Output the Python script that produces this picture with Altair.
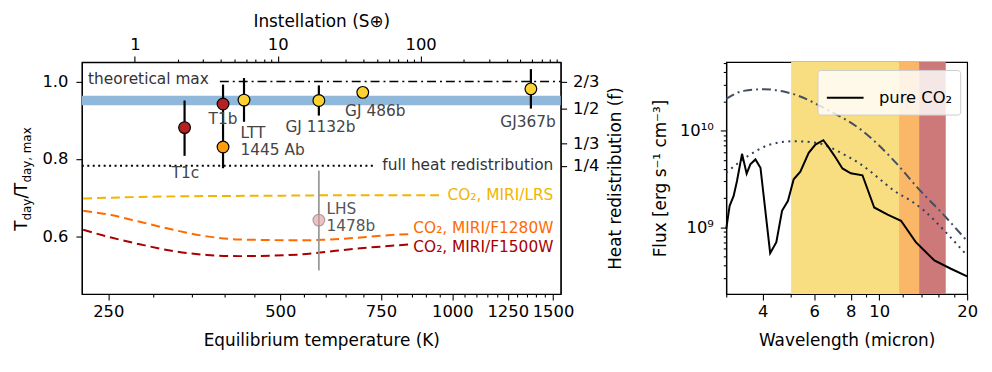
import altair as alt
import pandas as pd

FONT = "DejaVu Sans"

# ---------------- left panel data ----------------
planet_teq    = [340, 397, 397, 432, 584, 697, 1372]
planet_ratio  = [0.881, 0.942, 0.831, 0.952, 0.951, 0.972, 0.981]
planet_err_lo = [0.808, 0.890, 0.776, 0.896, 0.912, 0.972, 0.930]
planet_err_hi = [0.951, 0.992, 0.890, 1.009, 0.990, 0.972, 1.032]
planet_fill   = ["#b22222", "#b22222", "#ff9d0b", "#fdd232", "#fdd232", "#fdd232", "#fdd232"]

lhs_teq, lhs_ratio, lhs_lo, lhs_hi = [584], [0.642], [0.512], [0.770]

label_text  = ["T1c", "T1b", "GJ 1132b", "GJ 486b", "GJ367b"]
label_teq   = [341, 397, 588, 733, 1356]
label_ratio = [0.764, 0.904, 0.883, 0.925, 0.895]
ltt_text  = ["LTT", "1445 Ab"]
ltt_teq   = [426, 426]
ltt_ratio = [0.868, 0.823]
lhs_text  = ["LHS", "1478b"]
lhs_lteq  = [602, 602]
lhs_lratio = [0.670, 0.626]

lrs_teq   = [226, 253, 316, 539, 592, 772, 955]
lrs_ratio = [0.698, 0.700, 0.703, 0.7055, 0.706, 0.706, 0.706]
f1280_teq   = [226, 253, 285, 325, 372, 424, 539, 592, 676, 772, 848]
f1280_ratio = [0.666, 0.655, 0.637, 0.617, 0.600, 0.592, 0.590, 0.591, 0.596, 0.603, 0.606]
f1500_teq   = [226, 253, 285, 325, 372, 424, 539, 592, 676, 772, 838]
f1500_ratio = [0.617, 0.597, 0.579, 0.562, 0.552, 0.549, 0.553, 0.559, 0.568, 0.575, 0.579]

band_lo, band_hi = 0.9387, 0.9635
max_line = {"x": [392], "x2": [1547], "y": [1.0]}
full_line = {"x": [224.8], "x2": [736], "y": [0.7825]}

right_annot_text  = ["full heat redistribution", "CO₂, MIRI/LRS", "CO₂, MIRI/F1280W", "CO₂, MIRI/F1500W"]
right_annot_ratio = [0.785, 0.706, 0.621, 0.572]
right_annot_color = ["#333333", "#f3b400", "#ff6a00", "#a80000"]

redist_labels = ["2/3", "1/2", "1/3", "1/4"]
redist_pos    = [1.0, 0.9306, 0.8409, 0.7825]

teq_ticks = list(range(250, 1501, 50))
s_ticks = [1, 2, 3, 4, 5, 6, 7, 8, 9, 10, 20, 30, 40, 50, 60, 70, 80, 90,
           100, 200, 300, 400, 500, 600, 700, 800, 900]

# ---------------- right panel data ----------------
band_wl_lo = [5.0, 11.7, 13.7]
band_wl_hi = [11.7, 13.7, 16.9]
band_col   = ["#f8de80", "#fab768", "#cd7979"]

dashdot_wl   = [3.0, 3.441, 4.031, 4.72, 5.102, 6.65, 8.66, 11.27, 13.52, 16.72, 20.0]
dashdot_flux = [2.133e10, 2.576e10, 2.679e10, 2.535e10, 2.382e10, 1.644e10, 1.023e10,
                4.842e9, 2.576e9, 1.318e9, 7.2e8]
dotted_wl   = [3.0, 3.627, 4.24, 5.102, 6.135, 6.65, 7.59, 8.66, 9.90, 11.27, 12.83, 14.28, 16.72, 20.0]
dotted_flux = [3.67e9, 5.66e9, 7.18e9, 7.76e9, 7.46e9, 6.90e9, 5.66e9, 4.48e9, 3.27e9,
               2.38e9, 1.88e9, 1.48e9, 9.2e8, 5.1e8]
spec_wl = [3.0, 3.081, 3.180, 3.265, 3.397, 3.523, 3.627, 3.776, 3.928, 4.240, 4.451, 4.655,
           4.878, 5.102, 5.377, 5.743, 6.054, 6.446, 6.741, 7.105, 7.491, 8.001, 8.77, 9.621,
           10.69, 11.88, 13.35, 15.45, 17.6, 20.0]
spec_flux = [9.62e8, 1.667e9, 2.113e9, 3.013e9, 5.754e9, 3.589e9, 4.477e9, 5.035e9, 4.130e9,
             5.395e8, 7.015e8, 1.483e9, 1.879e9, 3.133e9, 3.758e9, 5.888e9, 7.178e9, 7.962e9,
             6.637e9, 5.236e9, 4.064e9, 3.614e9, 3.451e9, 1.603e9, 1.349e9, 1.169e9, 7.015e8,
             4.539e8, 3.724e8, 3.112e8]
wl_ticks = [3, 4, 5, 6, 7, 8, 9, 10, 12, 14, 16, 18, 20]
flux_ticks = [m * 10 ** e for e in (8, 9, 10) for m in range(1, 10)
              if 2.04e8 <= m * 10 ** e <= 5.12e10]

LABEL_FS, TITLE_FS, ANNOT_FS = 16.5, 17, 15.5
MAJ, MIN = 6, 3

# ---------------- left panel ----------------
LW, LH = 483, 234
xs = alt.Scale(type="log", domain=[224.8, 1547], nice=False)
ys = alt.Scale(domain=[0.4511, 1.0503], nice=False, zero=False)
x_axis = alt.Axis(values=teq_ticks, orient="bottom", title="Equilibrium temperature (K)",
                  labelExpr="datum.value % 250 === 0 ? format(datum.value, 'd') : ''",
                  tickSize={"condition": {"test": "datum.value % 250 === 0", "value": MAJ}, "value": MIN},
                  labelOverlap=False, labelFlush=False, titlePadding=12)
y_axis = alt.Axis(values=[0.6, 0.8, 1.0], format=".1f", orient="left", title=None, tickSize=MAJ,
                  labelPadding=8)


def X(f):
    return alt.X(f, type="quantitative", scale=xs, axis=x_axis)


def Y(f):
    return alt.Y(f, type="quantitative", scale=ys, axis=y_axis)


one = pd.DataFrame({"a": [0]})

band = alt.Chart(pd.DataFrame({"lo": [band_lo], "hi": [band_hi]})).mark_rect(
    color="#8fb8da").encode(x=alt.value(0), x2=alt.value(LW), y=Y("lo"), y2="hi")
maxl = alt.Chart(pd.DataFrame(max_line)).mark_rule(
    color="black", strokeWidth=1.6, strokeDash=[9, 4, 2, 4]).encode(x=X("x"), x2="x2", y=Y("y"))
fulll = alt.Chart(pd.DataFrame(full_line)).mark_rule(
    color="black", strokeWidth=2, strokeDash=[2, 3.5]).encode(x=X("x"), x2="x2", y=Y("y"))


def curve(t, r, col):
    return alt.Chart(pd.DataFrame({"t": t, "r": r})).mark_line(
        color=col, strokeWidth=2, strokeDash=[9, 5], interpolate="monotone").encode(x=X("t"), y=Y("r"))


c1 = curve(lrs_teq, lrs_ratio, "#f3b400")
c2 = curve(f1280_teq, f1280_ratio, "#ff6a00")
c3 = curve(f1500_teq, f1500_ratio, "#a80000")

annot_r = alt.Chart(pd.DataFrame({"t": [1502] * 4, "r": right_annot_ratio, "txt": right_annot_text,
                                  "col": right_annot_color})).mark_text(
    align="right", baseline="middle", font=FONT, fontSize=ANNOT_FS).encode(
    x=X("t"), y=Y("r"), text="txt:N", color=alt.Color("col:N", scale=None))
annot_max = alt.Chart(pd.DataFrame({"t": [230.5], "r": [1.007], "txt": ["theoretical max"]})).mark_text(
    align="left", baseline="middle", font=FONT, fontSize=ANNOT_FS, color="#333333").encode(
    x=X("t"), y=Y("r"), text="txt:N")

lhs_df = pd.DataFrame({"t": lhs_teq, "r": lhs_ratio, "lo": lhs_lo, "hi": lhs_hi})
lhs_err = alt.Chart(lhs_df).mark_rule(color="#9a9a9a", strokeWidth=1.8).encode(
    x=X("t"), y=Y("lo"), y2="hi")
lhs_pt = alt.Chart(lhs_df).mark_circle(size=140, fill="#e39a9a", fillOpacity=0.6, stroke="#888888",
                                      strokeWidth=1.2, strokeOpacity=0.7).encode(x=X("t"), y=Y("r"))
lhs_lbl = alt.Chart(pd.DataFrame({"t": lhs_lteq, "r": lhs_lratio, "txt": lhs_text})).mark_text(
    align="left", baseline="middle", font=FONT, fontSize=ANNOT_FS, color="#555555").encode(
    x=X("t"), y=Y("r"), text="txt:N")

pdf = pd.DataFrame({"t": planet_teq, "r": planet_ratio, "lo": planet_err_lo, "hi": planet_err_hi,
                    "fill": planet_fill})
errs = alt.Chart(pdf).mark_rule(color="black", strokeWidth=2.2).encode(x=X("t"), y=Y("lo"), y2="hi")
pts = alt.Chart(pdf).mark_circle(size=140, stroke="black", strokeWidth=1.2, opacity=1).encode(
    x=X("t"), y=Y("r"), fill=alt.Fill("fill:N", scale=None))
plabels = alt.Chart(pd.DataFrame({"t": label_teq, "r": label_ratio, "txt": label_text})).mark_text(
    align="center", baseline="middle", font=FONT, fontSize=ANNOT_FS, color="#444444").encode(
    x=X("t"), y=Y("r"), text="txt:N")
ltt = alt.Chart(pd.DataFrame({"t": ltt_teq, "r": ltt_ratio, "txt": ltt_text})).mark_text(
    align="left", baseline="middle", font=FONT, fontSize=ANNOT_FS, color="#444444").encode(
    x=X("t"), y=Y("r"), text="txt:N")

main = alt.layer(band, maxl, fulll, c1, c2, c3, annot_r, annot_max, lhs_err, lhs_pt, lhs_lbl,
                 errs, pts, plabels, ltt)

top = alt.Chart(pd.DataFrame({"S": s_ticks})).mark_point(opacity=0).encode(
    x=alt.X("S:Q", scale=alt.Scale(type="log", domain=[0.4258, 955], nice=False),
            axis=alt.Axis(orient="top", values=s_ticks, title="Instellation (S⊕)",
                          labelExpr="indexof([1, 10, 100], datum.value) >= 0 ? format(datum.value, 'd') : ''",
                          tickSize={"condition": {"test": "indexof([1, 10, 100], datum.value) >= 0",
                                                  "value": MAJ}, "value": MIN},
                          labelOverlap=False, labelFlush=False)))

redist_expr = " : ".join(f"datum.value === {p} ? '{l}'" for p, l in zip(redist_pos, redist_labels)) + " : ''"
right_ax = alt.Chart(pd.DataFrame({"f": redist_pos})).mark_point(opacity=0).encode(
    y=alt.Y("f:Q", scale=alt.Scale(domain=[0.4511, 1.0503], nice=False, zero=False),
            axis=alt.Axis(orient="right", values=redist_pos, labelExpr=redist_expr, tickSize=MAJ,
                          labelPadding=6, title="Heat redistribution (f)", titleAngle=270,
                          titleBaseline="top", titlePadding=9, labelOverlap=False)))

# y-axis title with subscripts, built from rotated text pieces
MAIN_X, SUB_X = -55.7, -51.0


def piece(txt, x, y, size):
    return alt.Chart(one).mark_text(angle=270, align="left", baseline="alphabetic", font=FONT,
                                    fontSize=size, color="black").encode(
        text=alt.value(txt), x=alt.value(x), y=alt.value(y))


ytitle = alt.layer(piece("T", MAIN_X, 170.2, 17), piece("day", SUB_X, 159.8, 12),
                   piece("/T", MAIN_X, 137.7, 17), piece("day, max", SUB_X, 121.6, 12))

left = alt.layer(main, top, right_ax, ytitle).resolve_scale(
    x="independent", y="independent").properties(width=LW, height=LH)

# ---------------- right panel ----------------
RW, RH = 243, 234
wx = alt.Scale(type="log", domain=[3, 20], nice=False)
fy = alt.Scale(type="log", domain=[2.04e8, 5.12e10], nice=False)
wx_axis = alt.Axis(values=wl_ticks, orient="bottom", title="Wavelength (micron)",
                   labelExpr="indexof([4, 6, 8, 10, 20], datum.value) >= 0 ? format(datum.value, 'd') : ''",
                   tickSize={"condition": {"test": "indexof([4, 6, 8, 10, 20], datum.value) >= 0",
                                           "value": MAJ}, "value": MIN},
                   labelOverlap=False, labelFlush=False, titlePadding=12)
fy_axis = alt.Axis(values=flux_ticks, orient="left", title="Flux [erg s⁻¹ cm⁻³]",
                   labelExpr="datum.value === 1e9 ? '10⁹' : datum.value === 1e10 ? '10¹⁰' : ''",
                   tickSize={"condition": {"test": "datum.value === 1e9 || datum.value === 1e10",
                                           "value": MAJ}, "value": MIN},
                   labelOverlap=False, labelPadding=7, titlePadding=10)


def WX(f):
    return alt.X(f, type="quantitative", scale=wx, axis=wx_axis)


def FY(f):
    return alt.Y(f, type="quantitative", scale=fy, axis=fy_axis)


bands = alt.Chart(pd.DataFrame({"lo": band_wl_lo, "hi": band_wl_hi, "c": band_col})).mark_rect().encode(
    x=WX("lo"), x2="hi", y=alt.value(0), y2=alt.value(RH), fill=alt.Fill("c:N", scale=None))
dd = alt.Chart(pd.DataFrame({"w": dashdot_wl, "f": dashdot_flux})).mark_line(
    color="#414f61", strokeWidth=2, strokeDash=[9, 4, 2, 4], interpolate="monotone").encode(
    x=WX("w"), y=FY("f"))
dt = alt.Chart(pd.DataFrame({"w": dotted_wl, "f": dotted_flux})).mark_line(
    color="#2c3f5c", strokeWidth=2, strokeDash=[2, 4.5], interpolate="monotone").encode(
    x=WX("w"), y=FY("f"))
spec = alt.Chart(pd.DataFrame({"w": spec_wl, "f": spec_flux, "s": ["pure CO₂"] * len(spec_wl)})).mark_line(
    strokeWidth=2).encode(
    x=WX("w"), y=FY("f"),
    color=alt.Color("s:N", scale=alt.Scale(domain=["pure CO₂"], range=["black"]),
                    legend=alt.Legend(title=None, orient="none", legendX=742, legendY=8,
                                      symbolType="stroke", symbolSize=1369, symbolStrokeWidth=2.2,
                                      labelFont=FONT, labelFontSize=LABEL_FS, labelOffset=14,
                                      fillColor="rgba(255,255,255,0.82)", strokeColor="#cccccc",
                                      cornerRadius=3, padding=8)))

right = alt.layer(bands, dd, dt, spec).properties(width=RW, height=RH)

chart = alt.hconcat(left, right, spacing=26).configure_view(
    stroke="black", strokeWidth=1.2).configure_axis(
    domainColor="black", tickColor="black", labelColor="black", titleColor="black",
    labelFont=FONT, titleFont=FONT, labelFontSize=LABEL_FS, titleFontSize=TITLE_FS,
    titleFontWeight="normal", grid=False, tickWidth=1.1, domainWidth=1.2, labelPadding=4,
    titlePadding=6).properties(
    padding={"left": 3.5, "top": 2, "right": 5, "bottom": 5})

chart.save("out.html", embed_options={"renderer": "svg", "actions": False})
